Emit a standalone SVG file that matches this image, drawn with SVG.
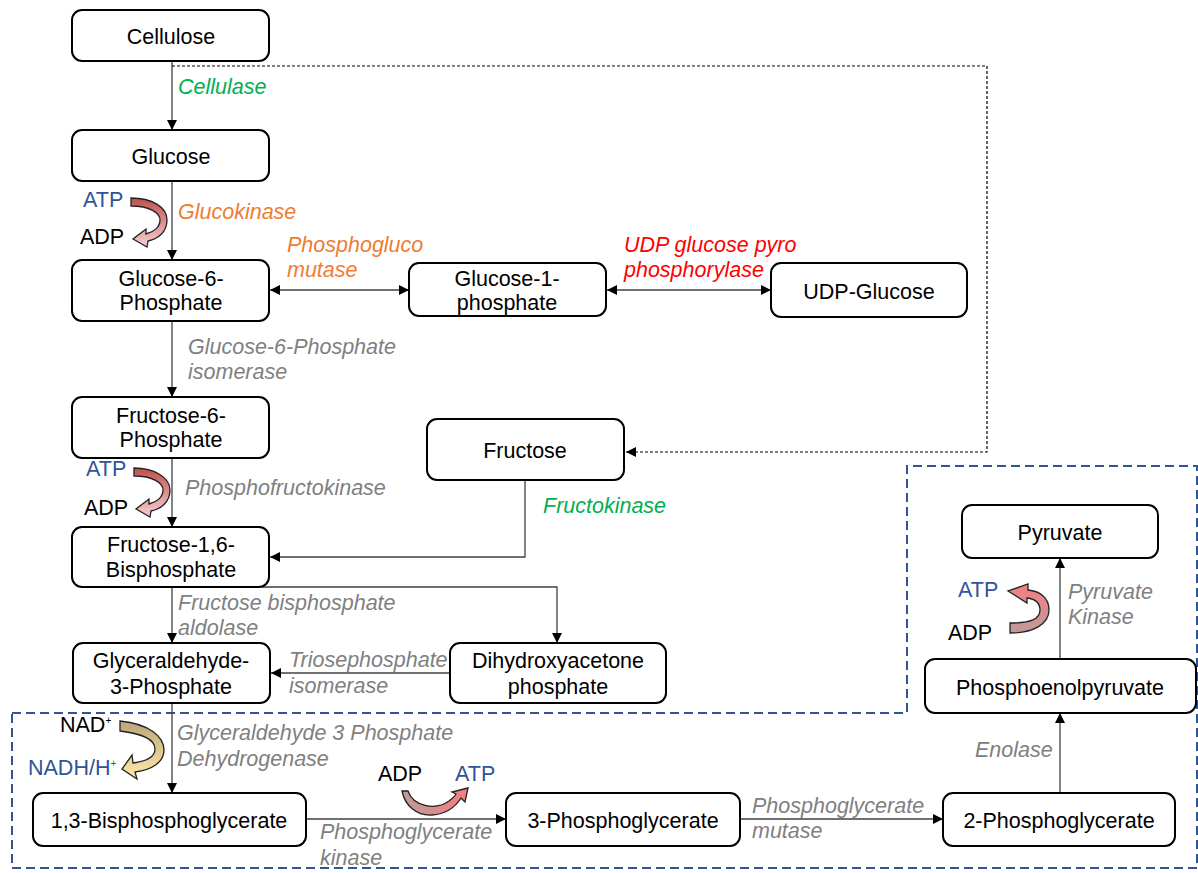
<svg xmlns="http://www.w3.org/2000/svg" width="1198" height="873" viewBox="0 0 1198 873">
<style>
.box{fill:#fff;stroke:#000;stroke-width:2}
.nt{font-family:"Liberation Sans",Arial,sans-serif;font-size:21.5px;fill:#000;text-anchor:middle}
.lb{font-family:"Liberation Sans",Arial,sans-serif;font-size:21.5px;font-style:italic}
.gray{fill:#808080}
.green{fill:#00B050}
.orange{fill:#ED7D31}
.red{fill:#FF0000}
.cof{font-family:"Liberation Sans",Arial,sans-serif;font-size:21.5px}
.blue{fill:#2F5597}
.blk{fill:#000}
.ln{fill:none;stroke:#404040;stroke-width:1.3}
.dot{fill:none;stroke:#000;stroke-width:1.2;stroke-dasharray:3 2}
.dash{fill:none;stroke:#2F5597;stroke-width:2;stroke-dasharray:9 5}
.ca{stroke:#222;stroke-width:1.3}
</style>
<defs>
<marker id="ah" viewBox="0 0 10 10" refX="10" refY="5" markerWidth="10" markerHeight="10" markerUnits="userSpaceOnUse" orient="auto-start-reverse"><path d="M0,0 L10,5 L0,10 Z" fill="#000"/></marker>
<linearGradient id="gr" x1="0" y1="0" x2="0" y2="1"><stop offset="0" stop-color="#C0504D"/><stop offset="1" stop-color="#F8D0D0"/></linearGradient>
<linearGradient id="gy" x1="0" y1="0" x2="0" y2="1"><stop offset="0" stop-color="#BBA57A"/><stop offset="1" stop-color="#FFEBA8"/></linearGradient>
<linearGradient id="gp" x1="0" y1="0" x2="1" y2="0"><stop offset="0" stop-color="#C09A9A"/><stop offset="1" stop-color="#F47F7F"/></linearGradient>
<linearGradient id="gq" x1="0" y1="1" x2="0" y2="0"><stop offset="0" stop-color="#C09A9A"/><stop offset="1" stop-color="#F47F7F"/></linearGradient>
</defs>

<path class="dash" d="M12,713 H907 V466 H1197 V868 H12 Z"/>

<g id="connectors">
<path class="ln" d="M172,61 V130" marker-end="url(#ah)"/>
<path class="ln" d="M172,181 V260" marker-end="url(#ah)"/>
<path class="ln" d="M270,290 H409" marker-start="url(#ah)" marker-end="url(#ah)"/>
<path class="ln" d="M607,290 H771" marker-start="url(#ah)" marker-end="url(#ah)"/>
<path class="ln" d="M172,321 V397" marker-end="url(#ah)"/>
<path class="ln" d="M172,458 V527" marker-end="url(#ah)"/>
<path class="ln" d="M525,480 V557 H270" marker-end="url(#ah)"/>
<path class="ln" d="M172,587 V643" marker-end="url(#ah)"/>
<path class="ln" d="M262,587 H557 V643" marker-end="url(#ah)"/>
<path class="ln" d="M450,673 H271" marker-end="url(#ah)"/>
<path class="ln" d="M172,703 V793" marker-end="url(#ah)"/>
<path class="ln" d="M306,819 H506" marker-end="url(#ah)"/>
<path class="ln" d="M740,819 H943" marker-end="url(#ah)"/>
<path class="ln" d="M1060,793 V713" marker-end="url(#ah)"/>
<path class="ln" d="M1060,659 V558" marker-end="url(#ah)"/>
<path class="dot" d="M172,66 H987 V452 H626" marker-end="url(#ah)"/>
</g>

<g id="cellulose"><rect class="box" x="72" y="10" width="197" height="51" rx="10"/><text class="nt" x="171" y="43.5">Cellulose</text></g>
<g id="glucose"><rect class="box" x="72" y="130" width="197" height="51" rx="10"/><text class="nt" x="171" y="163.5">Glucose</text></g>
<g id="g6p"><rect class="box" x="72" y="260" width="197" height="61" rx="10"/><text class="nt" x="171" y="286">Glucose-6-</text><text class="nt" x="171" y="310">Phosphate</text></g>
<g id="g1p"><rect class="box" x="409" y="263" width="197" height="53" rx="10"/><text class="nt" x="507" y="286">Glucose-1-</text><text class="nt" x="507" y="310">phosphate</text></g>
<g id="udpg"><rect class="box" x="771" y="263" width="196" height="54" rx="10"/><text class="nt" x="869" y="298.5">UDP-Glucose</text></g>
<g id="f6p"><rect class="box" x="72" y="397" width="197" height="61" rx="10"/><text class="nt" x="171" y="423">Fructose-6-</text><text class="nt" x="171" y="447">Phosphate</text></g>
<g id="fructose"><rect class="box" x="427" y="419" width="197" height="61" rx="10"/><text class="nt" x="525" y="457.5">Fructose</text></g>
<g id="f16bp"><rect class="box" x="72" y="527" width="197" height="60" rx="10"/><text class="nt" x="171" y="552">Fructose-1,6-</text><text class="nt" x="171" y="577">Bisphosphate</text></g>
<g id="g3p"><rect class="box" x="73" y="643" width="197" height="60" rx="10"/><text class="nt" x="171" y="668">Glyceraldehyde-</text><text class="nt" x="171" y="694">3-Phosphate</text></g>
<g id="dhap"><rect class="box" x="450" y="643" width="216" height="60" rx="10"/><text class="nt" x="558" y="668">Dihydroxyacetone</text><text class="nt" x="558" y="694">phosphate</text></g>
<g id="bpg13"><rect class="box" x="33" y="793" width="273" height="53" rx="10"/><text class="nt" x="169" y="827.5">1,3-Bisphosphoglycerate</text></g>
<g id="pg3"><rect class="box" x="506" y="793" width="234" height="53" rx="10"/><text class="nt" x="623" y="827.5">3-Phosphoglycerate</text></g>
<g id="pg2"><rect class="box" x="943" y="793" width="232" height="53" rx="10"/><text class="nt" x="1059" y="827.5">2-Phosphoglycerate</text></g>
<g id="pep"><rect class="box" x="925" y="659" width="271" height="54" rx="10"/><text class="nt" x="1060" y="694.5">Phosphoenolpyruvate</text></g>
<g id="pyruvate"><rect class="box" x="962" y="505" width="196" height="53" rx="10"/><text class="nt" x="1060" y="539.5">Pyruvate</text></g>

<g id="labels">
<text class="lb green" x="178" y="94">Cellulase</text>
<text class="lb orange" x="178" y="219">Glucokinase</text>
<text class="lb orange" x="287" y="252">Phosphogluco</text>
<text class="lb orange" x="287" y="277">mutase</text>
<text class="lb red" x="624" y="252">UDP glucose pyro</text>
<text class="lb red" x="624" y="277">phosphorylase</text>
<text class="lb gray" x="188" y="354">Glucose-6-Phosphate</text>
<text class="lb gray" x="188" y="379">isomerase</text>
<text class="lb gray" x="185" y="495">Phosphofructokinase</text>
<text class="lb green" x="543" y="513">Fructokinase</text>
<text class="lb gray" x="178" y="610">Fructose bisphosphate</text>
<text class="lb gray" x="178" y="635">aldolase</text>
<text class="lb gray" x="289" y="667">Triosephosphate</text>
<text class="lb gray" x="289" y="693">isomerase</text>
<text class="lb gray" x="177" y="740">Glyceraldehyde 3 Phosphate</text>
<text class="lb gray" x="177" y="766">Dehydrogenase</text>
<text class="lb gray" x="320" y="839">Phosphoglycerate</text>
<text class="lb gray" x="320" y="865">kinase</text>
<text class="lb gray" x="752" y="813">Phosphoglycerate</text>
<text class="lb gray" x="752" y="838">mutase</text>
<text class="lb gray" x="975" y="757">Enolase</text>
<text class="lb gray" x="1068" y="599">Pyruvate</text>
<text class="lb gray" x="1068" y="624">Kinase</text>
</g>

<g id="cofactors">
<text class="cof blue" x="83" y="207">ATP</text>
<text class="cof blk" x="80" y="244">ADP</text>
<path class="ca" fill="url(#gr)" d="M131,198 C152,198 167,207 167,220 C167,232 158,239 148,241 L147,247 L133,239 L146,229 L146,234 C154,232 160,227 160,220 C160,213 150,206 131,206 Z"/>

<text class="cof blue" x="86" y="476">ATP</text>
<text class="cof blk" x="84" y="515">ADP</text>
<path class="ca" fill="url(#gr)" d="M134,468 C155,468 170,478 170,490 C170,502 161,509 151,511 L150,517 L136,509 L149,499 L149,504 C157,502 163,497 163,490 C163,483 153,476 134,476 Z"/>

<text class="cof blk" x="60" y="732">NAD<tspan font-size="10" dy="-8">+</tspan></text>
<text class="cof blue" x="28" y="775">NADH/H<tspan font-size="10" dy="-8">+</tspan></text>
<path class="ca" fill="url(#gy)" d="M120,721 C150,724 164,737 164,750 C164,762 152,770 135,772 L137,779 L122,769 L132,755 L133,763 C148,761 155,756 155,749 C155,741 145,734 120,731 Z"/>

<text class="cof blk" x="378" y="781">ADP</text>
<text class="cof blue" x="455" y="781">ATP</text>
<path class="ca" fill="url(#gp)" d="M402,791 L408,791 C413,806 435,811 449,801 C453,798 455,796 456,794 L452,792 L468,788 L465,802 L461,798 C456,806 447,814 432,815 C417,816 405,806 402,791 Z"/>

<text class="cof blue" x="958" y="597">ATP</text>
<text class="cof blk" x="948" y="640">ADP</text>
<path class="ca" fill="url(#gq)" d="M1010,633 C1032,633 1049,625 1049,610 C1049,597 1039,591 1028,590 L1028,584 L1008,591 L1027,603 L1027,598 C1035,599 1040,603 1040,610 C1040,619 1031,623 1010,623 Z"/>
</g>
</svg>
